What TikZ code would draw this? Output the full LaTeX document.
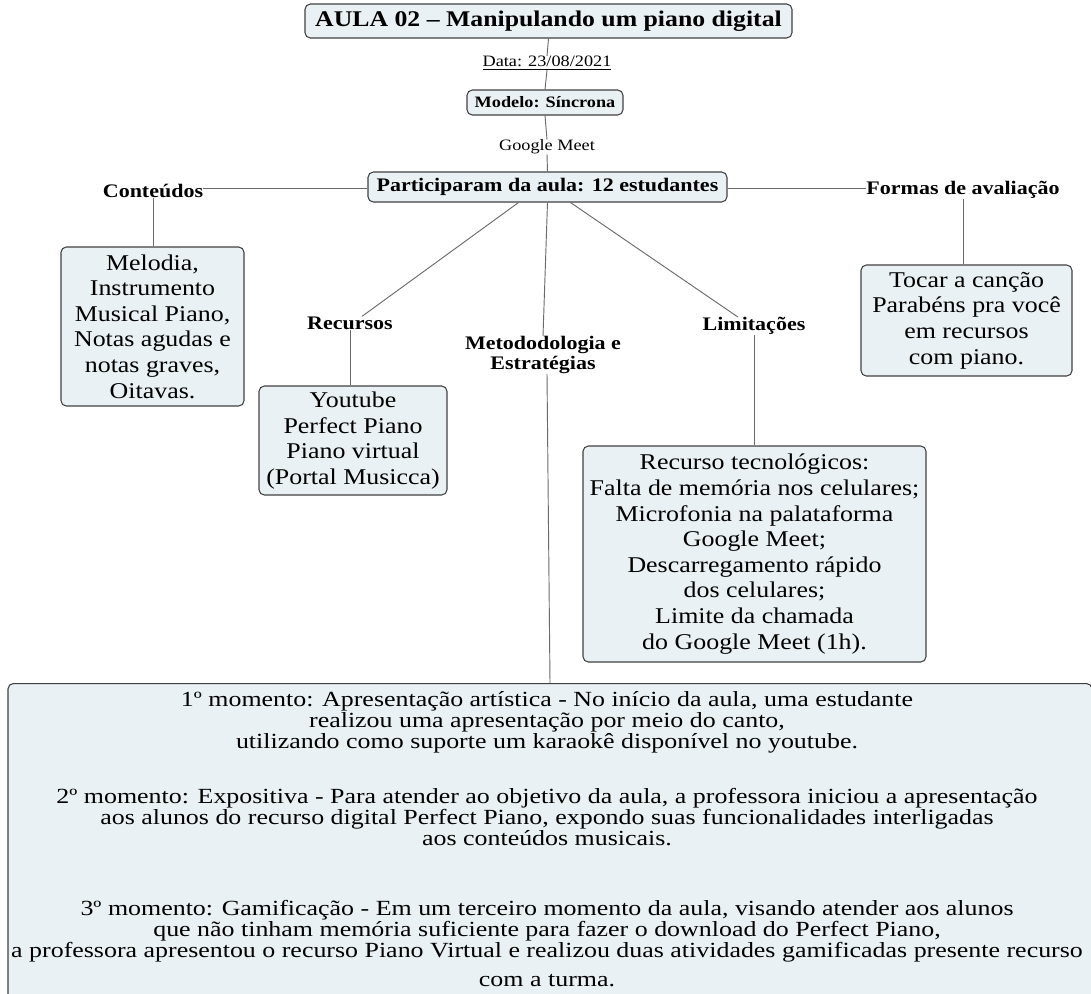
\documentclass[tikz,border=0pt]{standalone}
\usepackage{fontspec}
\setmainfont[FakeStretch=1.15]{Liberation Serif}
\newfontfamily\panelfont[FakeStretch=1.2]{Liberation Serif}
\usetikzlibrary{calc}
\definecolor{boxfill}{HTML}{EAF1F4}
\definecolor{boxline}{HTML}{404040}
\definecolor{wire}{HTML}{6A6A6A}
\begin{document}
\begin{tikzpicture}[x=0.75pt,y=-0.75pt,
  box/.style={draw=boxline, fill=boxfill, rounded corners=4pt, line width=0.8pt,
    inner sep=0pt, align=center},
  boxtext/.style={font=\fontsize{16.9pt}{19.2pt}\selectfont},
  topic/.style={font=\fontsize{14.35pt}{15pt}\selectfont\bfseries, inner sep=0pt, align=center},
  small/.style={font=\fontsize{11.9pt}{13pt}\selectfont, inner sep=0pt},
  wire/.style={draw=wire, line width=0.7pt}
]
\useasboundingbox (0,0) rectangle (1091,993);

% central column
\node[box, minimum width=365.25pt, minimum height=25.5pt,
  font=\fontsize{16.8pt}{18pt}\selectfont\bfseries] (title) at (548.5,21)
  {AULA 02 -- Manipulando um piano digital};
\node[small] (data) at (547,63) {\underline{Data: 23/08/2021}};
\node[box, minimum width=117pt, minimum height=18.75pt,
  font=\fontsize{11.9pt}{13pt}\selectfont\bfseries] (modelo) at (545,102.5) {Modelo: Síncrona};
\node[small] (meet) at (547,147) {Google Meet};
\node[box, minimum width=269.25pt, minimum height=22.5pt,
  font=\fontsize{14.35pt}{15pt}\selectfont\bfseries] (part) at (547.5,187)
  {Participaram da aula: 12 estudantes};

% branch titles
\node[topic] (cont) at (153,191) {Conteúdos};
\node[topic] (formas) at (963,190) {Formas de avaliação};
\node[topic] (recursos) at (350,323) {Recursos};
\node[topic] (metod) at (543,355) {Metododologia e\\Estratégias};
\node[topic] (limit) at (754,326) {Limitações};

% branch contents
\node[box, boxtext, minimum width=137.25pt, minimum height=119.25pt] (melodia) at (152.5,326.5)
  {Melodia,\\Instrumento\\Musical Piano,\\Notas agudas e\\notas graves,\\Oitavas.};
\node[box, boxtext, minimum width=141pt, minimum height=81.75pt] (youtube) at (353,440.5)
  {Youtube\\Perfect Piano\\Piano virtual\\(Portal Musicca)};
\node[box, boxtext, minimum width=257.25pt, minimum height=162pt] (tecn) at (754.5,554)
  {Recurso tecnológicos:\\Falta de memória nos celulares;\\Microfonia na palataforma\\Google Meet;\\Descarregamento rápido\\dos celulares;\\Limite da chamada\\do Google Meet (1h).};
\node[box, boxtext, minimum width=158.25pt, minimum height=83.25pt] (tocar) at (966.5,320.5)
  {Tocar a canção\\Parabéns pra você\\em recursos\\com piano.};

% strategies panel
\node[box, anchor=north, minimum width=813pt, minimum height=247.5pt] (big) at (550,683) {};
\node[font=\panelfont\fontsize{16.2pt}{15.75pt}\selectfont, anchor=north, inner sep=0pt, align=center]
  (bigtext) at (547,691)
  {1º momento: Apresentação artística - No início da aula, uma estudante\\
   realizou uma apresentação por meio do canto,\\
   utilizando como suporte um karaokê disponível no youtube.\\[25.5pt]
   2º momento: Expositiva - Para atender ao objetivo da aula, a professora iniciou a apresentação\\
   aos alunos do recurso digital Perfect Piano, expondo suas funcionalidades interligadas\\
   aos conteúdos musicais.\\[36.75pt]
   3º momento: Gamificação - Em um terceiro momento da aula, visando atender aos alunos\\
   que não tinham memória suficiente para fazer o download do Perfect Piano,\\
   a professora apresentou o recurso Piano Virtual e realizou duas atividades gamificadas presente recurso\\[6pt]
   com a turma.};

% connectors
\draw[wire] (title.south) -- (data.north);
\draw[wire] (data.south) -- (modelo.north);
\draw[wire] (modelo.south) -- (meet.north);
\draw[wire] (meet.south) -- (part.north);
\draw[wire] ($(part.west)+(0,1)$) -- ($(part.west -| cont.east)+(0,1)$);
\draw[wire] ($(part.east)+(0,1)$) -- ($(part.east -| formas.west)+(0,1)$);
\draw[wire] (cont.south) -- (cont.south |- melodia.north);
\draw[wire] (formas.south) -- (formas.south |- tocar.north);
\draw[wire] ($(part.south)+(-29,0)$) -- ($(recursos.north)+(12,0)$);
\draw[wire] (recursos.south) -- (recursos.south |- youtube.north);
\draw[wire] (part.south) -- (metod.north);
\draw[wire] ($(metod.south)+(4,0)$) -- ($(metod.south |- big.north)+(7,0)$);
\draw[wire] ($(part.south)+(23,0)$) -- ($(limit.north)+(-16,0)$);
\draw[wire] (limit.south) -- (limit.south |- tecn.north);
\end{tikzpicture}
\end{document}
